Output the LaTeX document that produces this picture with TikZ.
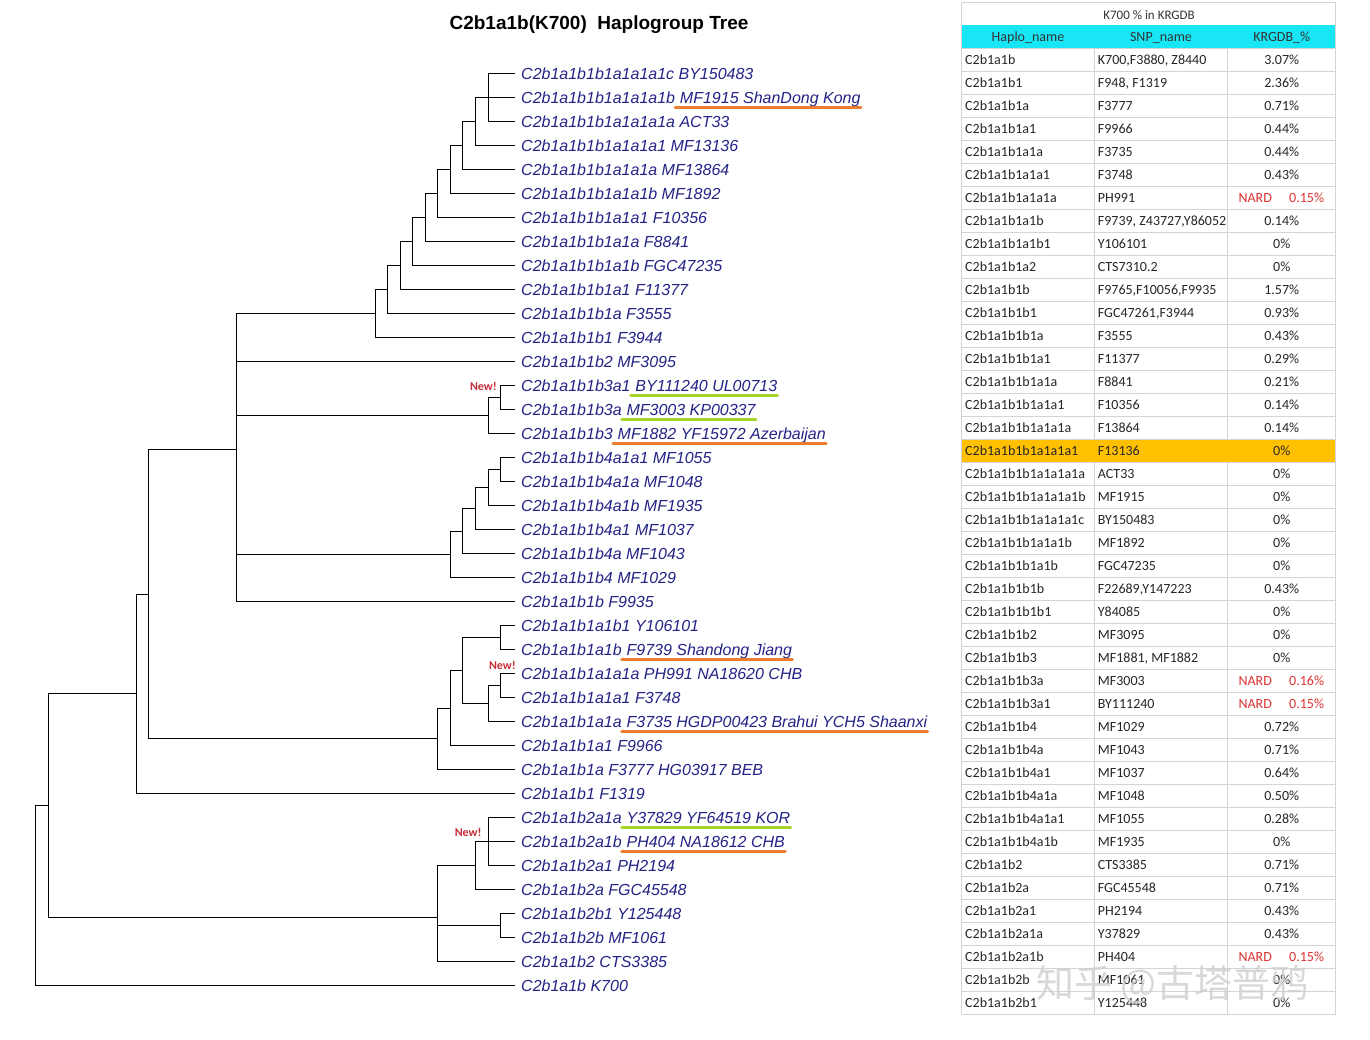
\documentclass[tikz,border=0pt]{standalone}
\usepackage{fontspec}
\setmainfont{Carlito}
\newfontfamily\arialf{Liberation Sans}
\newfontfamily\cjkf{Noto Sans CJK SC}
\definecolor{navy}{RGB}{36,36,135}
\definecolor{ulorange}{RGB}{235,125,50}
\definecolor{ulgreen}{RGB}{166,212,42}
\definecolor{nardred}{RGB}{222,50,50}
\definecolor{hdrcyan}{RGB}{24,230,245}
\definecolor{hlorange}{RGB}{255,192,0}
\definecolor{gridgray}{RGB}{212,212,212}
\definecolor{newred}{RGB}{200,45,55}
\tikzset{
  branch/.style={draw=black, line width=1.2pt, line cap=rect},
  leaflabel/.style={anchor=base west, inner sep=0pt, yshift=-5.8pt, text=navy,
     font=\arialf\itshape\fontsize{16}{19}\selectfont},
  ulpart/.style={anchor=base west, inner sep=0pt, text=navy,
     font=\arialf\itshape\fontsize{16}{19}\selectfont},
  uline/.style={line width=3.5pt, line cap=round},
  newtag/.style={anchor=east, inner sep=0pt, text=newred, font=\bfseries\fontsize{12}{14}\selectfont},
  tcell/.style={anchor=base west, inner sep=0pt, text=black!85, font=\fontsize{14}{16}\selectfont},
  tpct/.style={anchor=base, inner sep=0pt, text=black!85, font=\fontsize{14}{16}\selectfont},
  tnard/.style={anchor=base west, inner sep=0pt, text=nardred, font=\fontsize{14}{16}\selectfont},
  thead/.style={anchor=base, inner sep=0pt, text=black!80, font=\fontsize{14}{16}\selectfont},
  grid/.style={draw=gridgray, line width=0.8pt},
}
\newcommand{\lf}[3]{%
  \coordinate (#1) at (514,#2);
  \node[leaflabel] (#1t) at (521,#2) {#3};}
\newcommand{\lfu}[5]{%
  \coordinate (#1) at (514,#2);
  \node[leaflabel] (#1t) at (521,#2) {#3};
  \node[ulpart] (#1u) at ([xshift=4.45pt]#1t.base east) {#4};
  \draw[uline, draw=#5] ([yshift=-4.2pt]#1t.base east) -- ([yshift=-4.2pt]#1u.base east);}
\newcommand{\trow}[4]{%
  \node[tcell] (h#1) at (965,{48.3+(#1-0.5)*23+4.6}) {#2};
  \node[tcell] (s#1) at (1097.7,{48.3+(#1-0.5)*23+4.6}) {#3};
  \node[tpct] (p#1) at (1281.7,{48.3+(#1-0.5)*23+4.6}) {#4};}
\newcommand{\trowN}[4]{%
  \node[tcell] (h#1) at (965,{48.3+(#1-0.5)*23+4.6}) {#2};
  \node[tcell] (s#1) at (1097.7,{48.3+(#1-0.5)*23+4.6}) {#3};
  \node[tnard] (q#1) at (1238.3,{48.3+(#1-0.5)*23+4.6}) {NARD};
  \node[tnard] (p#1) at (1289,{48.3+(#1-0.5)*23+4.6}) {#4};}
\begin{document}
\begin{tikzpicture}[x=1pt,y=-1pt]
\fill[white] (0,0) rectangle (1370,1039);
\useasboundingbox (0,0) rectangle (1370,1039);

% title
\node[inner sep=0pt, font=\arialf\bfseries\fontsize{19}{22}\selectfont] (title) at (599,25) {C2b1a1b(K700)~ Haplogroup Tree};

% leaves
\lf{L1}{73.3}{C2b1a1b1b1a1a1a1c BY150483}
\lfu{L2}{97.3}{C2b1a1b1b1a1a1a1b}{MF1915 ShanDong Kong}{ulorange}
\lf{L3}{121.3}{C2b1a1b1b1a1a1a1a ACT33}
\lf{L4}{145.3}{C2b1a1b1b1a1a1a1 MF13136}
\lf{L5}{169.3}{C2b1a1b1b1a1a1a MF13864}
\lf{L6}{193.3}{C2b1a1b1b1a1a1b MF1892}
\lf{L7}{217.3}{C2b1a1b1b1a1a1 F10356}
\lf{L8}{241.3}{C2b1a1b1b1a1a F8841}
\lf{L9}{265.3}{C2b1a1b1b1a1b FGC47235}
\lf{L10}{289.3}{C2b1a1b1b1a1 F11377}
\lf{L11}{313.3}{C2b1a1b1b1a F3555}
\lf{L12}{337.3}{C2b1a1b1b1 F3944}
\lf{L13}{361.3}{C2b1a1b1b2 MF3095}
\lfu{L14}{385.3}{C2b1a1b1b3a1}{BY111240 UL00713}{ulgreen}
\lfu{L15}{409.3}{C2b1a1b1b3a}{MF3003 KP00337}{ulgreen}
\lfu{L16}{433.3}{C2b1a1b1b3}{MF1882 YF15972 Azerbaijan}{ulorange}
\lf{L17}{457.3}{C2b1a1b1b4a1a1 MF1055}
\lf{L18}{481.3}{C2b1a1b1b4a1a MF1048}
\lf{L19}{505.3}{C2b1a1b1b4a1b MF1935}
\lf{L20}{529.3}{C2b1a1b1b4a1 MF1037}
\lf{L21}{553.3}{C2b1a1b1b4a MF1043}
\lf{L22}{577.3}{C2b1a1b1b4 MF1029}
\lf{L23}{601.3}{C2b1a1b1b F9935}
\lf{L24}{625.3}{C2b1a1b1a1b1 Y106101}
\lfu{L25}{649.3}{C2b1a1b1a1b}{F9739 Shandong Jiang}{ulorange}
\lf{L26}{673.3}{C2b1a1b1a1a1a PH991 NA18620 CHB}
\lf{L27}{697.3}{C2b1a1b1a1a1 F3748}
\lfu{L28}{721.3}{C2b1a1b1a1a}{F3735 HGDP00423 Brahui YCH5 Shaanxi}{ulorange}
\lf{L29}{745.3}{C2b1a1b1a1 F9966}
\lf{L30}{769.3}{C2b1a1b1a F3777 HG03917 BEB}
\lf{L31}{793.3}{C2b1a1b1 F1319}
\lfu{L32}{817.3}{C2b1a1b2a1a}{Y37829 YF64519 KOR}{ulgreen}
\lfu{L33}{841.3}{C2b1a1b2a1b}{PH404 NA18612 CHB}{ulorange}
\lf{L34}{865.3}{C2b1a1b2a1 PH2194}
\lf{L35}{889.3}{C2b1a1b2a FGC45548}
\lf{L36}{913.3}{C2b1a1b2b1 Y125448}
\lf{L37}{937.3}{C2b1a1b2b MF1061}
\lf{L38}{961.3}{C2b1a1b2 CTS3385}
\lf{L39}{985.3}{C2b1a1b K700}

% internal nodes
\coordinate (n1) at (488.3,97.3);
\coordinate (n2) at (475.3,121.3);
\coordinate (n3) at (462.7,145.3);
\coordinate (n4) at (450.3,169.3);
\coordinate (n5) at (437.3,193.3);
\coordinate (n6) at (425.7,217.3);
\coordinate (n7) at (412.7,241.3);
\coordinate (n8) at (400.3,265.3);
\coordinate (n9) at (387.3,289.3);
\coordinate (n10) at (375.3,313.3);
\coordinate (n11) at (500.3,397.3);
\coordinate (n12) at (488.3,415.3);
\coordinate (n13) at (500.3,469.3);
\coordinate (n14) at (488.3,487.3);
\coordinate (n15) at (475.3,508.3);
\coordinate (n16) at (462.7,531.3);
\coordinate (n17) at (450.3,554.3);
\coordinate (n18) at (236.3,449.3);
\coordinate (n19) at (500.3,637.3);
\coordinate (n20) at (500.3,685.3);
\coordinate (n21) at (488.3,703.3);
\coordinate (n22) at (462.7,670.3);
\coordinate (n23) at (450.3,708.3);
\coordinate (n24) at (437.3,738.3);
\coordinate (n25) at (148.3,594.3);
\coordinate (n26) at (136.7,693.3);
\coordinate (n27) at (488.3,841.3);
\coordinate (n28) at (475.3,865.3);
\coordinate (n29) at (500.3,925.3);
\coordinate (n30) at (437.3,917.3);
\coordinate (n31) at (48.3,805.3);
\coordinate (n32) at (35.3,895.3);

\foreach \p/\c in {n1/L1,n1/L2,n1/L3,n2/n1,n2/L4,n3/n2,n3/L5,n4/n3,n4/L6,n5/n4,n5/L7,
  n6/n5,n6/L8,n7/n6,n7/L9,n8/n7,n8/L10,n9/n8,n9/L11,n10/n9,n10/L12,
  n11/L14,n11/L15,n12/n11,n12/L16,
  n13/L17,n13/L18,n14/n13,n14/L19,n15/n14,n15/L20,n16/n15,n16/L21,n17/n16,n17/L22,
  n18/n10,n18/L13,n18/n12,n18/n17,n18/L23,
  n19/L24,n19/L25,n20/L26,n20/L27,n21/n20,n21/L28,n22/n19,n22/n21,n23/n22,n23/L29,n24/n23,n24/L30,
  n25/n18,n25/n24,n26/n25,n26/L31,
  n27/L32,n27/L33,n27/L34,n28/n27,n28/L35,n29/L36,n29/L37,n30/n28,n30/n29,n30/L38,
  n31/n26,n31/n30,n32/n31,n32/L39}
  \draw[branch] (\p) |- (\c);

% New! tags
\node[newtag] (new1) at (497,386.7) {New!};
\node[newtag] (new2) at (516,665) {New!};
\node[newtag] (new3) at (481.7,832.7) {New!};

% table grid
\draw[grid] (961.7,2.7) -- (1335.7,2.7);
\draw[grid] (961.7,25) -- (1335.7,25);
\foreach \k in {0,...,42} \draw[grid] (961.7,{48.3+\k*23}) -- (1335.7,{48.3+\k*23});
\draw[grid] (961.7,2.7) -- (961.7,1014.3);
\draw[grid] (1335.7,2.7) -- (1335.7,1014.3);
\draw[grid] (1094.3,48.3) -- (1094.3,1014.3);
\draw[grid] (1227.3,48.3) -- (1227.3,1014.3);
\fill[hdrcyan] (962.2,25.4) rectangle (1335.2,47.9);
\fill[hlorange] (962.2,439.7) rectangle (1335.2,461.9);

\node[thead, font=\fontsize{13}{15}\selectfont] (ttitle) at (1149,19) {K700 \% in KRGDB};
\node[thead] (hh) at (1028,41) {Haplo\_name};
\node[thead] (hs) at (1161,41) {SNP\_name};
\node[thead] (hp) at (1281.7,41) {KRGDB\_\%};

\trow{1}{C2b1a1b}{K700,F3880, Z8440}{3.07\%}
\trow{2}{C2b1a1b1}{F948, F1319}{2.36\%}
\trow{3}{C2b1a1b1a}{F3777}{0.71\%}
\trow{4}{C2b1a1b1a1}{F9966}{0.44\%}
\trow{5}{C2b1a1b1a1a}{F3735}{0.44\%}
\trow{6}{C2b1a1b1a1a1}{F3748}{0.43\%}
\trowN{7}{C2b1a1b1a1a1a}{PH991}{0.15\%}
\trow{8}{C2b1a1b1a1b}{F9739, Z43727,Y86052}{0.14\%}
\trow{9}{C2b1a1b1a1b1}{Y106101}{0\%}
\trow{10}{C2b1a1b1a2}{CTS7310.2}{0\%}
\trow{11}{C2b1a1b1b}{F9765,F10056,F9935}{1.57\%}
\trow{12}{C2b1a1b1b1}{FGC47261,F3944}{0.93\%}
\trow{13}{C2b1a1b1b1a}{F3555}{0.43\%}
\trow{14}{C2b1a1b1b1a1}{F11377}{0.29\%}
\trow{15}{C2b1a1b1b1a1a}{F8841}{0.21\%}
\trow{16}{C2b1a1b1b1a1a1}{F10356}{0.14\%}
\trow{17}{C2b1a1b1b1a1a1a}{F13864}{0.14\%}
\trow{18}{C2b1a1b1b1a1a1a1}{F13136}{0\%}
\trow{19}{C2b1a1b1b1a1a1a1a}{ACT33}{0\%}
\trow{20}{C2b1a1b1b1a1a1a1b}{MF1915}{0\%}
\trow{21}{C2b1a1b1b1a1a1a1c}{BY150483}{0\%}
\trow{22}{C2b1a1b1b1a1a1b}{MF1892}{0\%}
\trow{23}{C2b1a1b1b1a1b}{FGC47235}{0\%}
\trow{24}{C2b1a1b1b1b}{F22689,Y147223}{0.43\%}
\trow{25}{C2b1a1b1b1b1}{Y84085}{0\%}
\trow{26}{C2b1a1b1b2}{MF3095}{0\%}
\trow{27}{C2b1a1b1b3}{MF1881, MF1882}{0\%}
\trowN{28}{C2b1a1b1b3a}{MF3003}{0.16\%}
\trowN{29}{C2b1a1b1b3a1}{BY111240}{0.15\%}
\trow{30}{C2b1a1b1b4}{MF1029}{0.72\%}
\trow{31}{C2b1a1b1b4a}{MF1043}{0.71\%}
\trow{32}{C2b1a1b1b4a1}{MF1037}{0.64\%}
\trow{33}{C2b1a1b1b4a1a}{MF1048}{0.50\%}
\trow{34}{C2b1a1b1b4a1a1}{MF1055}{0.28\%}
\trow{35}{C2b1a1b1b4a1b}{MF1935}{0\%}
\trow{36}{C2b1a1b2}{CTS3385}{0.71\%}
\trow{37}{C2b1a1b2a}{FGC45548}{0.71\%}
\trow{38}{C2b1a1b2a1}{PH2194}{0.43\%}
\trow{39}{C2b1a1b2a1a}{Y37829}{0.43\%}
\trowN{40}{C2b1a1b2a1b}{PH404}{0.15\%}
\trow{41}{C2b1a1b2b}{MF1061}{0\%}
\trow{42}{C2b1a1b2b1}{Y125448}{0\%}

% watermark
\node[anchor=west, inner sep=0pt, text=gray!38, opacity=0.8, font=\cjkf\fontsize{38}{40}\selectfont] (wm) at (1036,985) {知乎 @古塔普鸦};
\end{tikzpicture}
\end{document}
